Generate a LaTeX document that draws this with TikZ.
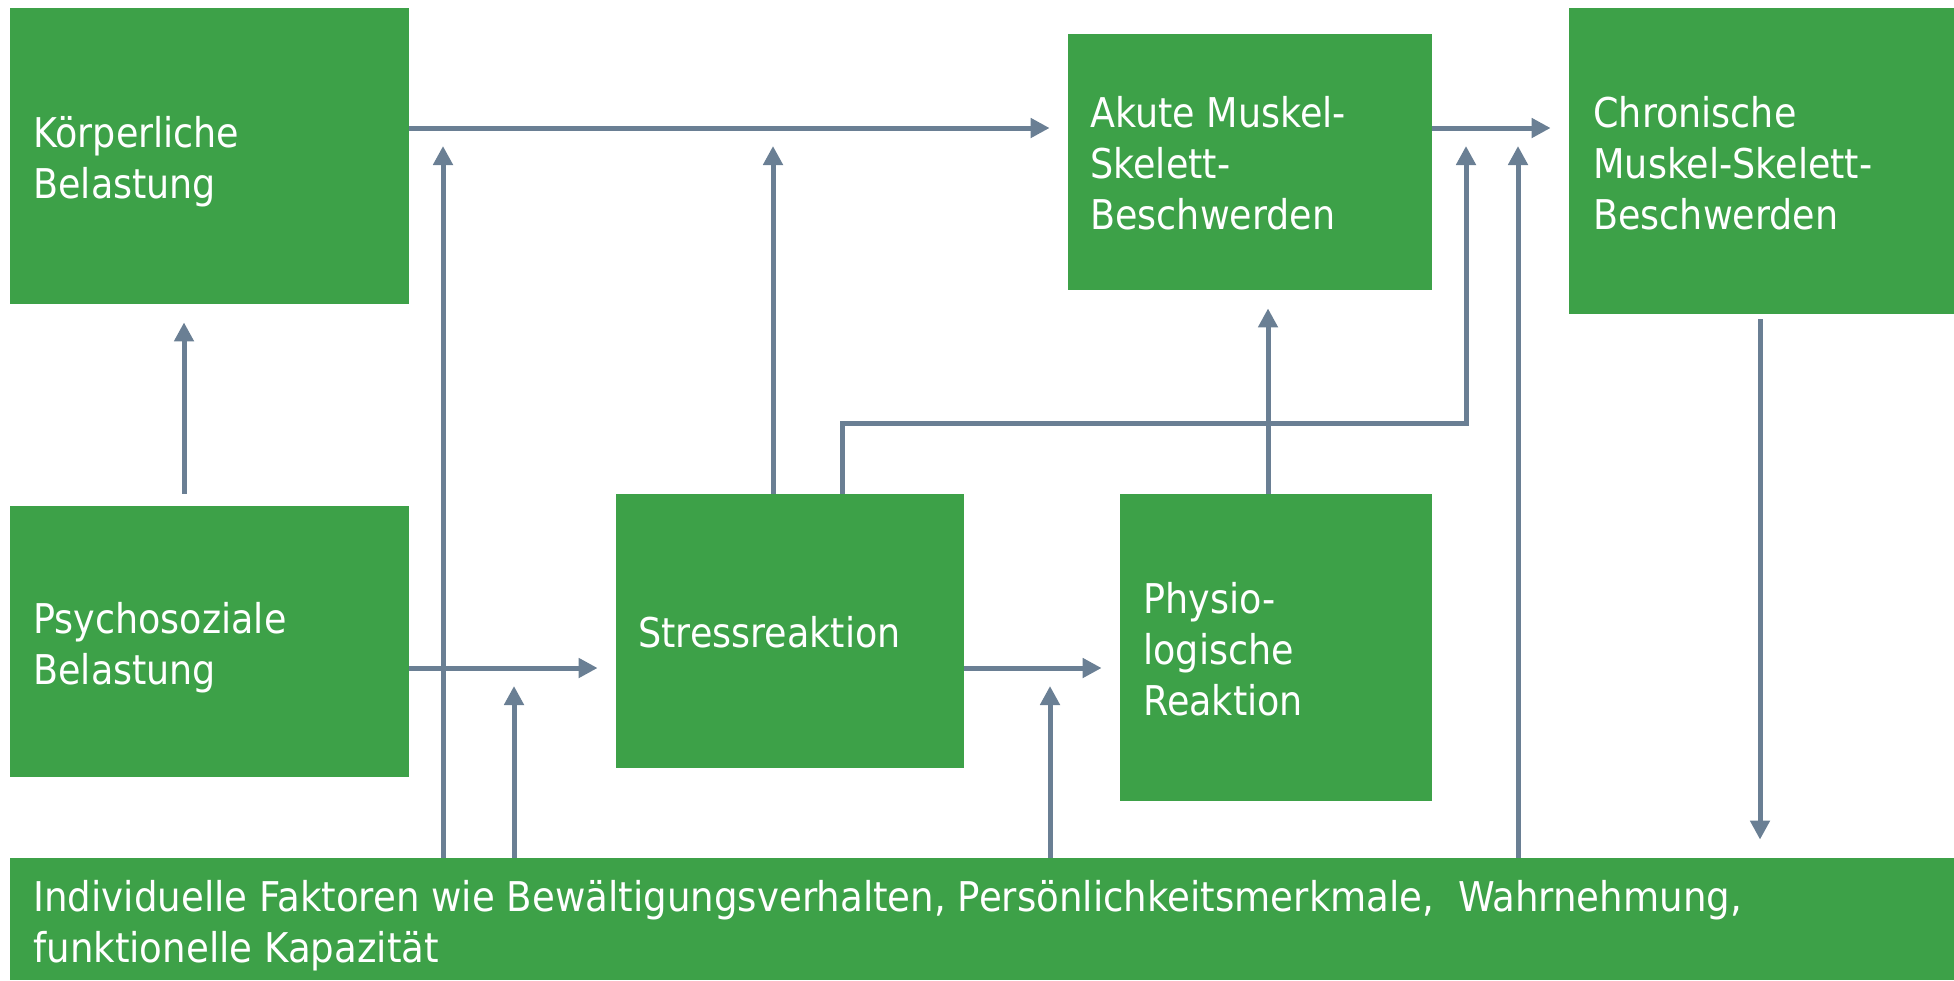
\documentclass[tikz,border=0pt]{standalone}
\usepackage{fontspec}
\setmainfont{DejaVu Sans}[FakeStretch=0.89]
\newfontfamily\indfont{DejaVu Sans}[FakeStretch=0.906]
\usetikzlibrary{arrows.meta,fit}
\definecolor{boxgreen}{RGB}{61,161,72}
\definecolor{arrowgray}{RGB}{106,127,148}
\begin{document}
\begin{tikzpicture}[x=0.5pt,y=-0.5pt,
  box/.style={fill=boxgreen,draw=none,inner sep=0pt,rectangle},
  txt/.style={text=white,inner sep=0pt,align=left,anchor=base west,
    font=\fontsize{20.5pt}{25.5pt}\selectfont},
  conn/.style={draw=arrowgray,line width=2.5pt},
  arr/.style={conn,-{Triangle[length=9.5pt,width=9.5pt]},shorten >=9pt}]
\useasboundingbox (0,0) rectangle (1954,980);
% boxes
\node[box,fit={(10,8)(409,304)}] (kb) {};
\node[box,fit={(10,506)(409,777)}] (pb) {};
\node[box,fit={(616,494)(964,768)}] (sr) {};
\node[box,fit={(1068,34)(1432,290)}] (ak) {};
\node[box,fit={(1120,494)(1432,801)}] (ph) {};
\node[box,fit={(1569,8)(1954,314)}] (ch) {};
\node[box,fit={(10,858)(1954,980)}] (ind) {};
% texts (anchor = baseline of last line)
\node[txt] (tkb) at (33,198) {Körperliche\\Belastung};
\node[txt] (tpb) at (33,684) {Psychosoziale\\Belastung};
\node[txt] (tsr) at (638,647) {Stressreaktion};
\node[txt] (tak) at (1090,229) {Akute Muskel-\\Skelett-\\Beschwerden};
\node[txt] (tph) at (1143,715) {Physio-\\logische\\Reaktion};
\node[txt] (tch) at (1593,229) {Chronische\\Muskel-Skelett-\\Beschwerden};
\node[txt,font=\fontsize{20.5pt}{25.5pt}\indfont] (tind) at (33,962) {Individuelle Faktoren wie Bewältigungsverhalten, Persönlichkeitsmerkmale,\ \ Wahrnehmung,\\funktionelle Kapazität};
% junction coordinates on lines
\coordinate (top443) at (443,128);
\coordinate (top773) at (773,128);
\coordinate (top1466) at (1466,128);
\coordinate (top1518) at (1518,128);
\coordinate (mid514) at (514,668);
\coordinate (mid1050) at (1050,668);
\coordinate (bend1) at (842,423);
\coordinate (bend2) at (1466,423);
% connectors
\draw[arr] (kb.east |- 0,128) -- (ak.west |- 0,128);
\draw[arr] (ak.east |- 0,128) -- (ch.west |- 0,128);
\draw[arr] (pb.east |- 0,668) -- (sr.west |- 0,668);
\draw[arr] (sr.east |- 0,668) -- (ph.west |- 0,668);
\draw[arr,shorten <=6pt] (pb.north -| 184,0) -- (kb.south -| 184,0);
\draw[arr] (ind.north -| top443) -- (top443);
\draw[arr] (sr.north -| top773) -- (top773);
\draw[arr] (sr.north -| bend1) -- (bend1) -- (bend2) -- (top1466);
\draw[arr] (ph.north -| 1268,0) -- (ak.south -| 1268,0);
\draw[arr] (ind.north -| top1518) -- (top1518);
\draw[arr,shorten <=2.5pt] (ch.south -| 1760,0) -- (ind.north -| 1760,0);
\draw[arr] (ind.north -| mid514) -- (mid514);
\draw[arr] (ind.north -| mid1050) -- (mid1050);
\end{tikzpicture}
\end{document}
